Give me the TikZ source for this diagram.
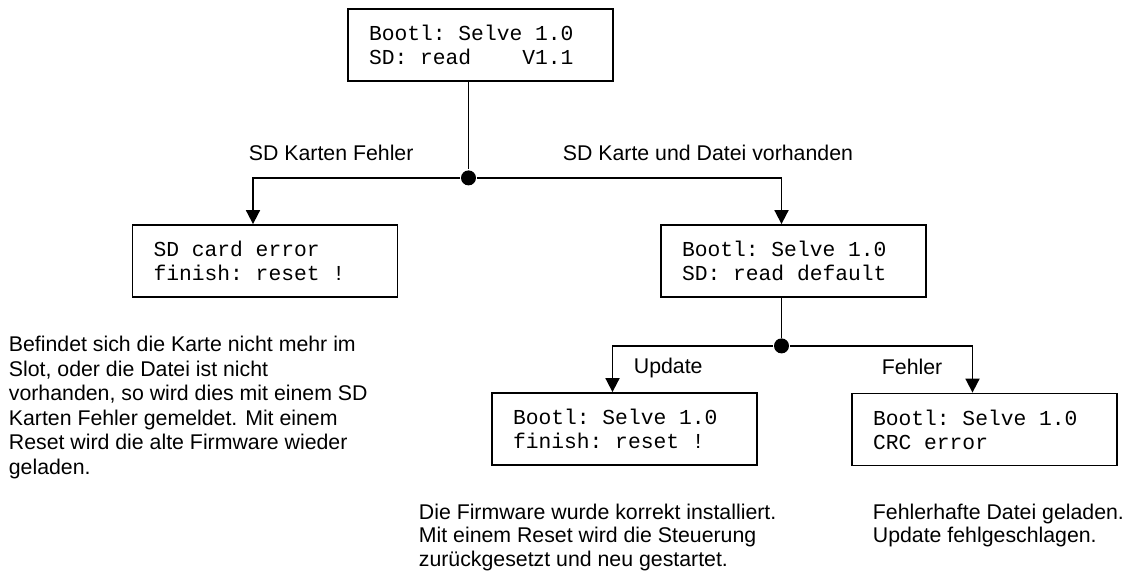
\documentclass[tikz,border=0pt]{standalone}
\usepackage{fontspec}
\setmainfont{Liberation Sans}
\newfontfamily\lcdfont[WordSpace={1,0,0},PunctuationSpace=WordSpace]{Liberation Mono}
\usetikzlibrary{arrows.meta}

\tikzset{
  lcd/.style={draw, minimum width=265pt, minimum height=72pt, text width=223pt,
    inner xsep=21pt, align=flush left, font=\lcdfont\fontsize{21.3}{24}\selectfont},
  lbl/.style={inner sep=0pt, anchor=west, font=\fontsize{21.3}{24.5}\selectfont},
  note/.style={lbl, align=flush left, anchor=north west},
  dot/.style={circle, fill, inner sep=0pt, minimum size=15pt},
  tip/.style={-{Triangle[length=14pt,width=14pt]}}
}

\begin{document}
\begin{tikzpicture}[x=1pt, y=-1pt, line width=1.8pt]
      \useasboundingbox (0,0) rectangle (1130,572);
      \def\off{-12pt}
      % display boxes
      \node[lcd] (boot) at (480.5,45) {Bootl: Selve 1.0\\SD: read\ \ \ \ V1.1};
      \node[lcd] (sdfail) at (265,261) {SD card error\\finish: reset !};
      \node[lcd] (readdef) at (793.5,261) {Bootl: Selve 1.0\\SD: read default};
      \node[lcd] (upd) at (624.5,429) {Bootl: Selve 1.0\\finish: reset !};
      \node[lcd] (crc) at (984.5,429.5) {Bootl: Selve 1.0\\CRC error};
      % branches
      \node[dot] (j1) at ([xshift=\off,yshift=-96pt]boot.south) {};
      \node[dot] (j2) at ([xshift=\off,yshift=-48pt]readdef.south) {};
      \draw ([xshift=\off]boot.south) -- (j1);
      \draw[tip] (j1) -| ([xshift=\off]sdfail.north);
      \draw[tip] (j1) -| ([xshift=\off]readdef.north);
      \draw ([xshift=\off]readdef.south) -- (j2);
      \draw[tip] (j2) -| ([xshift=\off]upd.north);
      \draw[tip] (j2) -| ([xshift=\off]crc.north);
      % labels
      \node[lbl] (lfail) at (248,153) {SD Karten Fehler};
      \node[lbl] (lok) at (562,153) {SD Karte und Datei vorhanden};
      \node[lbl] (lupd) at (633,368) {Update};
      \node[lbl] (lerr) at (881,367) {Fehler};
      % notes
      \node[note] (nfail) at (8,335.5) {Befindet sich die Karte nicht mehr im\\Slot, oder die Datei ist nicht\\vorhanden, so wird dies mit einem SD\\Karten Fehler gemeldet. Mit einem\\Reset wird die alte Firmware wieder\\geladen.};
      \node[note, font=\fontsize{21.3}{23.5}\selectfont] (nupd) at (418,503) {Die Firmware wurde korrekt installiert.\\Mit einem Reset wird die Steuerung\\zur\"uckgesetzt und neu gestartet.};
      \node[note, font=\fontsize{21.3}{23.5}\selectfont] (nerr) at (872,503) {Fehlerhafte Datei geladen.\\Update fehlgeschlagen.};
\end{tikzpicture}
\end{document}
